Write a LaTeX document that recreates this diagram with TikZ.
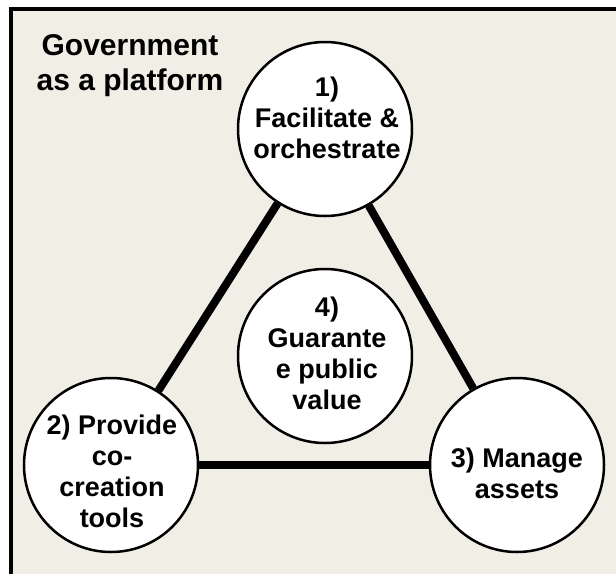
\documentclass[tikz,border=0pt]{standalone}
\usepackage{fontspec}
\setmainfont{Liberation Sans}
\usetikzlibrary{positioning}
\definecolor{paper}{HTML}{F1EEE6}

\begin{document}
\begin{tikzpicture}[x=1pt, y=-1pt,
  hub/.style={circle, draw, line width=2.5pt, fill=white, minimum size=174pt, inner sep=0pt},
  lbl/.style={align=center, font=\bfseries\fontsize{27}{31}\selectfont, inner sep=0pt},
  link/.style={line width=8pt}]
\useasboundingbox (0,0) rectangle (616,574);
\fill[white] (0,0) rectangle (616,574);
\fill[paper] (10.5,9) rectangle (616,574);
\draw[line width=4pt] (10.5,574) -- (10.5,9) -- (616,9);
% title
\node[align=center, font=\bfseries\fontsize{30}{35}\selectfont, inner sep=0pt] (title) at (130,66) {Government\\as a platform};
% the four roles
\node[hub] (c1) at (325,129) {};
\node[hub] (c2) at (111,465) {};
\node[hub] (c3) at (517,465) {};
\node[hub] (c4) at (325,356) {};
\draw[link] (c1) -- (c2);
\draw[link] (c1) -- (c3);
\draw[link] (c2) -- (c3);
\node[lbl] (t1) at (327,118) {1)\\Facilitate \&\\orchestrate};
\node[lbl] (t2) at (112,471) {2) Provide\\co-\\creation\\tools};
\node[lbl] (t3) at (517,473) {3) Manage\\assets};
\node[lbl] (t4) at (327,353) {4)\\Guarante\\e public\\value};
\end{tikzpicture}
\end{document}
